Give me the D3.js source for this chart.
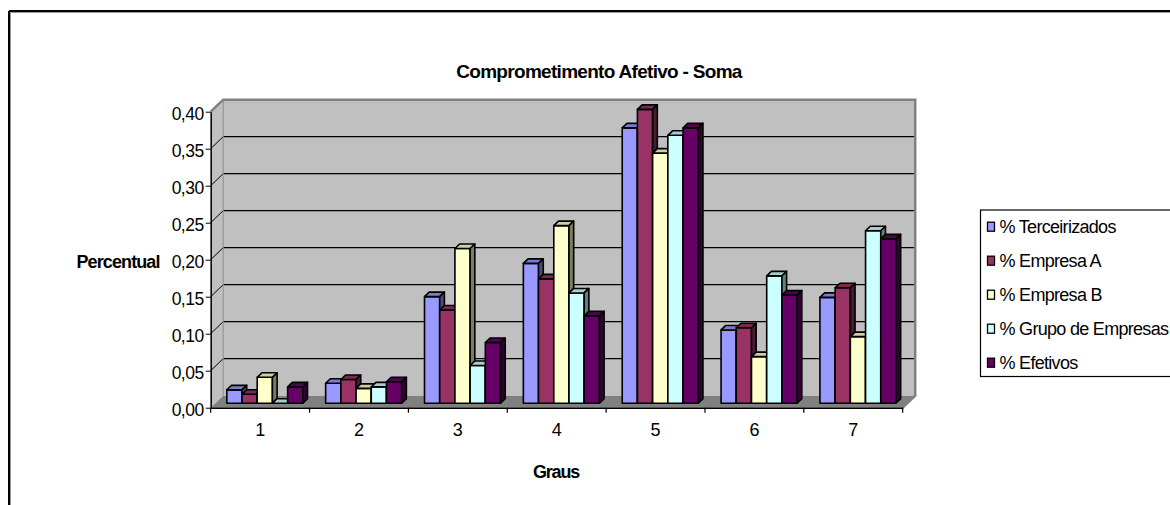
<!DOCTYPE html>
<html>
<head>
<meta charset="utf-8">
<script src="https://cdn.jsdelivr.net/npm/d3@7/dist/d3.min.js"></script>
<style>
  html, body { margin: 0; padding: 0; background: #fff; }
  svg { display: block; }
  text { font-family: "Liberation Sans", Arial, sans-serif; fill: #000; }
</style>
</head>
<body>
<svg id="chart" width="1170" height="505"></svg>
<script>
// Graus de comprometimento afetivo (1..7) e percentual de respondentes por grupo
const categories = ["1", "2", "3", "4", "5", "6", "7"];
const seriesNames = ["% Terceirizados", "% Empresa A", "% Empresa B", "% Grupo de Empresas", "% Efetivos"];
const terceirizados = [0.018, 0.027, 0.144, 0.189, 0.372, 0.099, 0.143];
const empresaA      = [0.012, 0.032, 0.126, 0.168, 0.397, 0.102, 0.156];
const empresaB      = [0.035, 0.020, 0.209, 0.240, 0.338, 0.063, 0.090];
const grupoEmpresas = [0.000, 0.022, 0.051, 0.149, 0.362, 0.172, 0.233];
const efetivos      = [0.022, 0.029, 0.082, 0.118, 0.372, 0.146, 0.222];
const yTicks = [0, 0.05, 0.10, 0.15, 0.20, 0.25, 0.30, 0.35, 0.40];
const seriesColors = ["#9999FF", "#993366", "#FFFFCC", "#CCFFFF", "#660066"];

const seriesValues = [terceirizados, empresaA, empresaB, grupoEmpresas, efetivos];

const svg = d3.select("#chart");
const ptBR = d3.formatLocale({ decimal: ",", thousands: ".", grouping: [3], currency: ["R$", ""] });
const fmt = ptBR.format(".2f");

// Plot frame (front plane) and the 3D depth vector
const x = d3.scaleBand().domain(categories).range([210.7, 902.7]);
const y = d3.scaleLinear().domain([0, 0.40]).range([407.7, 111.7]);
const D = { x: 12.5, y: -12 };
const [px0, px1] = x.range();
const y0 = y(0), yMax = y(0.40);

// Outer chart border
svg.append("line").attr("x1", 9).attr("y1", 11).attr("x2", 1170).attr("y2", 11)
  .attr("stroke", "#000").attr("stroke-width", 2);
svg.append("line").attr("x1", 9).attr("y1", 11).attr("x2", 9).attr("y2", 505)
  .attr("stroke", "#000").attr("stroke-width", 2);
svg.append("line").attr("x1", 10).attr("y1", 12.5).attr("x2", 1170).attr("y2", 12.5)
  .attr("stroke", "#9a9a9a").attr("stroke-width", 1);
svg.append("line").attr("x1", 10.5).attr("y1", 12).attr("x2", 10.5).attr("y2", 505)
  .attr("stroke", "#9a9a9a").attr("stroke-width", 1);

// Title
svg.append("text").attr("x", 599).attr("y", 78).attr("text-anchor", "middle")
  .attr("font-size", 19).attr("font-weight", "bold").attr("letter-spacing", -0.7)
  .text("Comprometimento  Afetivo - Soma");

// Walls and floor
const walls = svg.append("g");
walls.append("rect")
  .attr("x", px0 + D.x).attr("y", yMax + D.y)
  .attr("width", px1 - px0).attr("height", y0 - yMax)
  .attr("fill", "#c0c0c0");
walls.append("polygon")
  .attr("points", [[px0, yMax], [px0 + D.x, yMax + D.y], [px0 + D.x, y0 + D.y], [px0, y0]].join(" "))
  .attr("fill", "#c0c0c0");
walls.append("polygon")
  .attr("points", [[px0, y0], [px0 + D.x, y0 + D.y], [px1 + D.x, y0 + D.y], [px1, y0]].join(" "))
  .attr("fill", "#808080");

// Gridlines on the back wall and their continuation across the side wall
yTicks.filter(v => v > 0 && v < 0.40).forEach(v => {
  walls.append("line")
    .attr("x1", px0 + D.x).attr("x2", px1 + D.x)
    .attr("y1", y(v) + D.y).attr("y2", y(v) + D.y)
    .attr("stroke", "#000").attr("stroke-width", 1.2);
  walls.append("line")
    .attr("x1", px0).attr("y1", y(v))
    .attr("x2", px0 + D.x).attr("y2", y(v) + D.y)
    .attr("stroke", "#000").attr("stroke-width", 1);
});

// Wall edges
walls.append("polyline")
  .attr("points", [[px0, yMax], [px0 + D.x, yMax + D.y], [px1 + D.x, yMax + D.y], [px1 + D.x, y0 + D.y], [px1, y0]].join(" "))
  .attr("fill", "none").attr("stroke", "#808080").attr("stroke-width", 2.5);
walls.append("line")
  .attr("x1", px0 + D.x).attr("y1", yMax + D.y).attr("x2", px0 + D.x).attr("y2", y0 + D.y)
  .attr("stroke", "#8a8a8a").attr("stroke-width", 1);

// Bars
const bw = x.bandwidth() / 6.5;
const f0 = 0.375, f1 = 0.75;
const dx = (f1 - f0) * D.x, dy = (f1 - f0) * D.y;
const bars = svg.append("g")
  .attr("stroke", "#000").attr("stroke-width", 1.6).attr("stroke-linejoin", "round");

categories.forEach((cat, ci) => {
  seriesValues.forEach((vals, si) => {
    const col = d3.color(seriesColors[si]);
    const bx = x(cat) + 0.75 * bw + si * bw + f0 * D.x;
    const yt = y(vals[ci]) + f0 * D.y;
    const yb = y(0) + f0 * D.y;
    bars.append("rect")
      .attr("x", bx).attr("y", yt).attr("width", bw).attr("height", yb - yt)
      .attr("fill", col.formatHex());
    bars.append("polygon")
      .attr("points", [[bx, yt], [bx + bw, yt], [bx + bw + dx, yt + dy], [bx + dx, yt + dy]].join(" "))
      .attr("fill", col.darker(0.6).formatHex());
    bars.append("polygon")
      .attr("points", [[bx + bw, yt], [bx + bw + dx, yt + dy], [bx + bw + dx, yb + dy], [bx + bw, yb]].join(" "))
      .attr("fill", col.darker(2).formatHex());
  });
});

// Y axis
const yAxis = svg.append("g").attr("transform", `translate(${px0},0)`)
  .call(d3.axisLeft(y).tickValues(yTicks).tickFormat(fmt).tickSize(5).tickSizeOuter(0).tickPadding(2));
yAxis.select(".domain").attr("stroke", "#000").attr("stroke-width", 1.5);
yAxis.selectAll(".tick line").attr("stroke", "#000");
yAxis.selectAll(".tick text")
  .attr("font-family", "Liberation Sans, Arial, sans-serif")
  .attr("font-size", 17.5).attr("dy", "0.42em").attr("letter-spacing", -0.5);

// X axis: labels at band centres, ticks at band boundaries
const xAxis = svg.append("g").attr("transform", `translate(0,${y0})`)
  .call(d3.axisBottom(x).tickSize(0).tickPadding(16));
xAxis.select(".domain").attr("stroke", "#000").attr("stroke-width", 1.5);
xAxis.selectAll(".tick text")
  .attr("font-family", "Liberation Sans, Arial, sans-serif").attr("font-size", 18);
categories.concat([null]).forEach(cat => {
  const tx = cat === null ? px1 : x(cat);
  xAxis.append("line").attr("x1", tx).attr("x2", tx).attr("y1", 0).attr("y2", 5)
    .attr("stroke", "#000").attr("stroke-width", 1.2);
});

// Axis titles
svg.append("text").attr("x", 76.5).attr("y", 267.5)
  .attr("font-size", 18).attr("font-weight", "bold").attr("letter-spacing", -0.9)
  .text("Percentual");
svg.append("text").attr("x", 556).attr("y", 478).attr("text-anchor", "middle")
  .attr("font-size", 18).attr("font-weight", "bold").attr("letter-spacing", -1.2)
  .text("Graus");

// Legend
const legend = svg.append("g");
legend.append("rect").attr("x", 980.5).attr("y", 210).attr("width", 300).attr("height", 166.5)
  .attr("fill", "#fff").attr("stroke", "#000").attr("stroke-width", 1.2);
seriesNames.forEach((name, i) => {
  const cy = 226.7 + i * 34;
  legend.append("rect").attr("x", 987.5).attr("y", cy - 4.5).attr("width", 7).attr("height", 9)
    .attr("fill", seriesColors[i]).attr("stroke", "#000").attr("stroke-width", 1.3);
  legend.append("text").attr("x", 999.5).attr("y", cy + 6.5)
    .attr("font-size", 18).attr("letter-spacing", -0.7)
    .text(name);
});
</script>
</body>
</html>
